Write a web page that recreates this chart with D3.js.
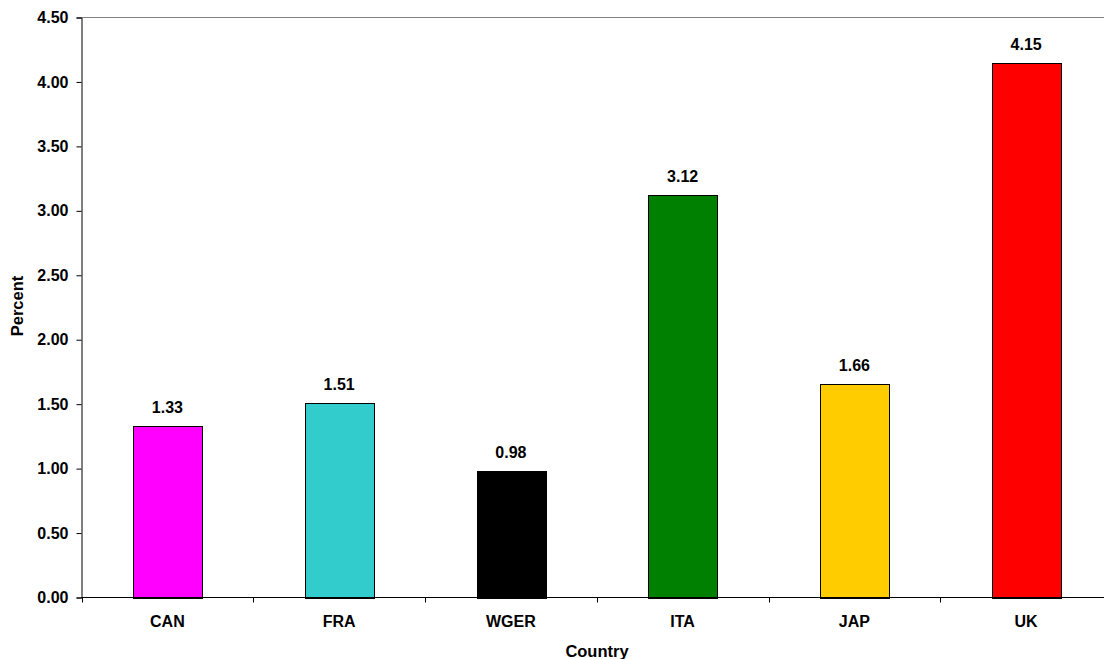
<!DOCTYPE html>
<html>
<head>
<meta charset="utf-8">
<script src="https://d3js.org/d3.v7.min.js"></script>
<style>
  html, body { margin: 0; padding: 0; background: #fff; }
  svg { display: block; }
  text { font-family: "Liberation Sans", Arial, sans-serif; font-weight: bold; fill: #000; }
</style>
</head>
<body>
<svg id="chart" width="1104" height="659"></svg>
<script>
// Country codes along the x axis
const countries = ["CAN", "FRA", "WGER", "ITA", "JAP", "UK"];
// Percent value for each country
const percents = [1.33, 1.51, 0.98, 3.12, 1.66, 4.15];
// Bar fill for each country
const barColors = ["#FF00FF", "#33CCCC", "#000000", "#008000", "#FFCC00", "#FF0000"];
// Y axis ticks
const yTicks = [0, 0.5, 1.0, 1.5, 2.0, 2.5, 3.0, 3.5, 4.0, 4.5];

const svg = d3.select("#chart");
const plotLeft = 81.5, plotTop = 17.5, plotBottom = 597.5, plotRight = 1112;

const x = d3.scaleBand().domain(countries).range([plotLeft, plotRight]).paddingInner(0).paddingOuter(0);
const y = d3.scaleLinear().domain([0, 4.5]).range([plotBottom, plotTop]);

// Top frame line
svg.append("line")
  .attr("x1", plotLeft).attr("x2", 1104)
  .attr("y1", plotTop).attr("y2", plotTop)
  .attr("stroke", "#808080").attr("stroke-width", 1);

// Bars
const barW = x.bandwidth() * 0.4;
svg.append("g").selectAll("rect")
  .data(countries)
  .join("rect")
  .attr("x", (d) => Math.round(x(d) + (x.bandwidth() - barW) / 2) + 0.5)
  .attr("y", (d, i) => Math.round(y(percents[i])) + 0.5)
  .attr("width", Math.round(barW))
  .attr("height", (d, i) => Math.round(y(0)) - Math.round(y(percents[i])))
  .attr("fill", (d, i) => barColors[i])
  .attr("stroke", "#000")
  .attr("stroke-width", 1);

// Value labels
svg.append("g").selectAll("text")
  .data(countries)
  .join("text")
  .attr("x", (d) => x(d) + x.bandwidth() / 2)
  .attr("y", (d, i) => y(percents[i]) - 13)
  .attr("text-anchor", "middle")
  .attr("font-size", 16)
  .text((d, i) => percents[i].toFixed(2));

// Y axis
const yAxis = svg.append("g")
  .attr("transform", `translate(${plotLeft},0)`)
  .call(d3.axisLeft(y).tickValues(yTicks).tickSize(5).tickPadding(8).tickFormat(d3.format(".2f")));
yAxis.select(".domain").attr("stroke", "#000");
yAxis.selectAll(".tick line").attr("stroke", "#000");
yAxis.selectAll(".tick text").attr("font-size", 16).attr("font-family", "Liberation Sans, Arial, sans-serif").attr("font-weight", "bold").attr("fill", "#000");

// X axis: baseline with ticks at category boundaries
svg.append("line")
  .attr("x1", plotLeft).attr("x2", 1104)
  .attr("y1", plotBottom).attr("y2", plotBottom)
  .attr("stroke", "#000");
const bounds = countries.map((d) => x(d)).concat([plotRight]);
svg.append("g").selectAll("line")
  .data(bounds)
  .join("line")
  .attr("x1", (d) => Math.round(d) + 0.5).attr("x2", (d) => Math.round(d) + 0.5)
  .attr("y1", plotBottom).attr("y2", plotBottom + 5)
  .attr("stroke", "#000");
svg.append("g").selectAll("text")
  .data(countries)
  .join("text")
  .attr("x", (d) => x(d) + x.bandwidth() / 2)
  .attr("y", 627)
  .attr("text-anchor", "middle")
  .attr("font-size", 16)
  .text((d) => d);

// Axis titles
svg.append("text")
  .attr("x", 597).attr("y", 657)
  .attr("text-anchor", "middle")
  .attr("font-size", 16.5)
  .text("Country");
svg.append("text")
  .attr("transform", "translate(23,306) rotate(-90)")
  .attr("text-anchor", "middle")
  .attr("font-size", 16.5)
  .text("Percent");
</script>
</body>
</html>
